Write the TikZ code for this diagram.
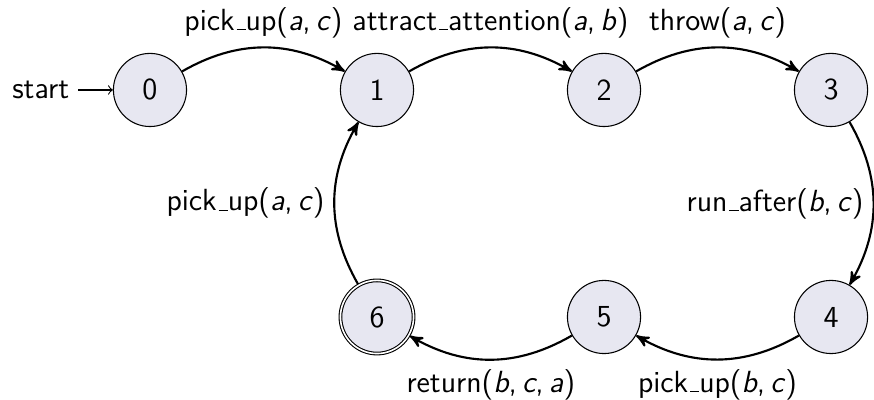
\documentclass[tikz,border=0pt]{standalone}
\usetikzlibrary{automata,arrows}
\definecolor{statefill}{RGB}{231,231,241}
\newcommand{\argv}[1]{\textit{#1}}
% thin rule underscore, as in the classic OT1 \_
\newcommand{\us}{\leavevmode\kern.06em\vbox{\hrule width.3em}}
\begin{document}
\begin{tikzpicture}[
  font=\fontsize{11.5}{14}\selectfont\sffamily,
  every state/.style={draw, thin, fill=statefill, minimum size=27.5pt, inner sep=0pt},
  trans/.style={thick, -stealth', bend left},
  auto]
\useasboundingbox (-1.982,-4.084) rectangle (9.568,1.189);
% states
\node[state, initial]   (q0) at (0,0)  {0};
\node[state]            (q1) at (3,0)  {1};
\node[state]            (q2) at (6,0)  {2};
\node[state]            (q3) at (9,0)  {3};
\node[state]            (q4) at (9,-3) {4};
\node[state]            (q5) at (6,-3) {5};
\node[state, accepting] (q6) at (3,-3) {6};
% transitions
\path
  (q0) edge[trans] node {pick\us up(\argv{a},\,\argv{c})} (q1)
  (q1) edge[trans] node {attract\us attention(\argv{a},\,\argv{b})} (q2)
  (q2) edge[trans] node {throw(\argv{a},\,\argv{c})} (q3)
  (q3) edge[trans] node[swap] {run\us after(\argv{b},\,\argv{c})} (q4)
  (q4) edge[trans] node {pick\us up(\argv{b},\,\argv{c})} (q5)
  (q5) edge[trans] node {return(\argv{b},\,\argv{c},\,\argv{a})} (q6)
  (q6) edge[trans] node {pick\us up(\argv{a},\,\argv{c})} (q1);
\end{tikzpicture}
\end{document}
